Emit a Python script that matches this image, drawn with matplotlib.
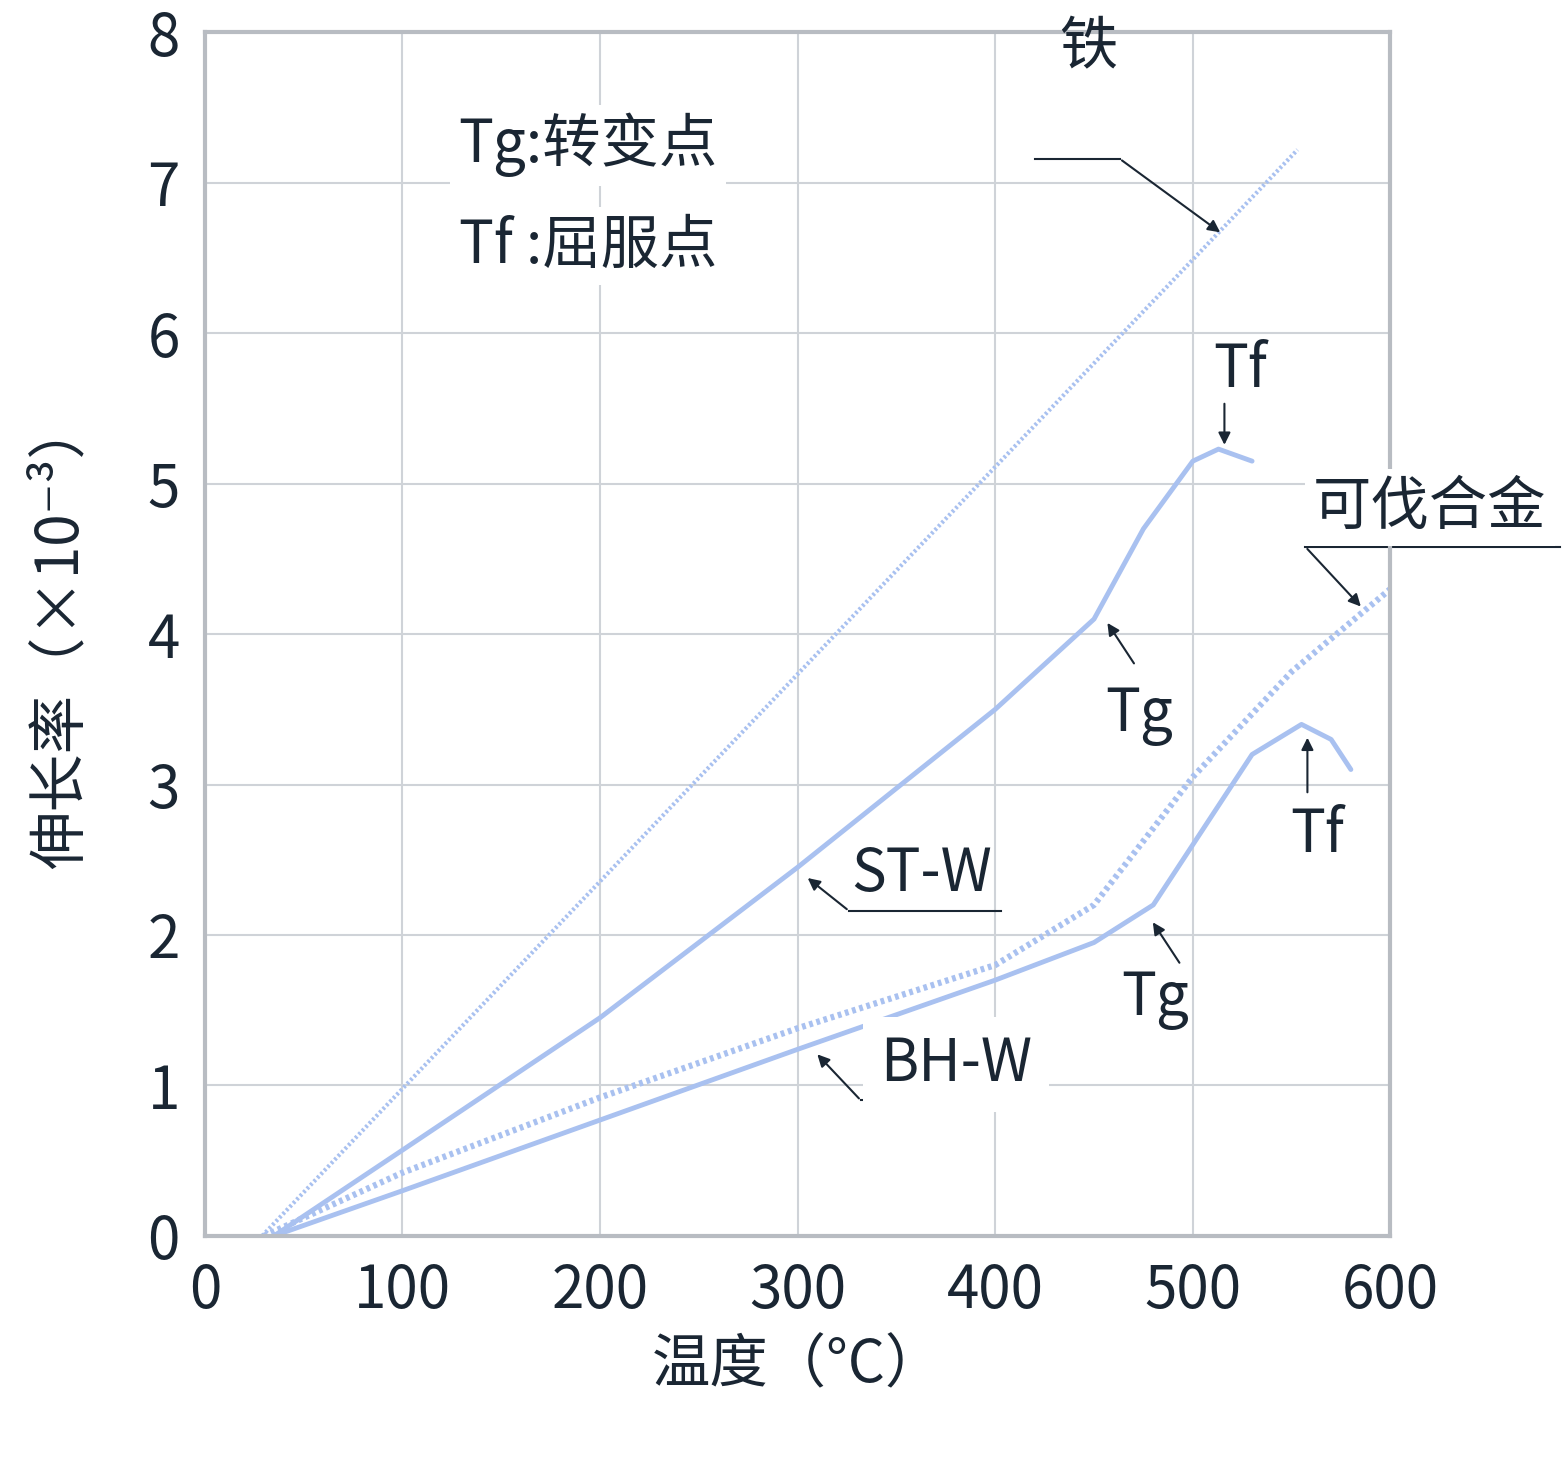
import matplotlib
matplotlib.use("Agg")
import matplotlib.pyplot as plt

plt.rcParams['font.family'] = ['Noto Sans CJK SC', 'DejaVu Sans']

# iron (thin dotted)
iron_x = [29, 553]
iron_y = [0, 7.22]

# ST-W (solid)
stw_x = [35, 100, 200, 300, 400, 450, 475, 500, 513, 530]
stw_y = [0, 0.57, 1.45, 2.45, 3.5, 4.1, 4.7, 5.15, 5.23, 5.15]

# Kovar alloy (dotted)
kov_x = [30, 100, 200, 300, 400, 450, 500, 550, 600]
kov_y = [0, 0.42, 0.92, 1.38, 1.8, 2.2, 3.05, 3.75, 4.3]

# BH-W (solid)
bhw_x = [35, 100, 200, 300, 400, 450, 480, 500, 530, 555, 570, 580]
bhw_y = [0, 0.3, 0.77, 1.24, 1.7, 1.95, 2.2, 2.6, 3.2, 3.4, 3.3, 3.1]

color = "#a9c1f0"
txt = "#1a2633"

fig = plt.figure(figsize=(15.64, 14.73), dpi=100)
ax = fig.add_axes([0.131, 0.161, 0.758, 0.817])

ax.plot(iron_x, iron_y, color=color, lw=3, ls=(0, (0.6, 0.6)))
ax.plot(stw_x, stw_y, color=color, lw=3.5, solid_capstyle="round")
ax.plot(kov_x, kov_y, color=color, lw=4.5, ls=(0, (0.6, 0.6)))
ax.plot(bhw_x, bhw_y, color=color, lw=3.5, solid_capstyle="round")

ax.set_xlim(0, 600)
ax.set_ylim(0, 8)
ax.set_xticks(range(0, 601, 100))
ax.set_yticks(range(0, 9))
ax.grid(True, color="#cfd3d8", lw=1.5)
ax.set_axisbelow(True)
for s in ax.spines.values():
    s.set_color("#b8bcc2")
    s.set_linewidth(3)
ax.tick_params(length=0, labelsize=42, colors=txt, pad=18)
ax.set_xlabel("温度（°C）", fontsize=42, color=txt, labelpad=10)
ax.set_ylabel("伸长率（×10⁻³）", fontsize=42, color=txt, labelpad=40)

fs = 42
bbox = dict(facecolor="white", edgecolor="none", pad=6)
ax.text(194, 7.25, "Tg:转变点", fontsize=fs, color=txt, ha="center", va="center", bbox=bbox)
ax.text(194, 6.58, "Tf :屈服点", fontsize=fs, color=txt, ha="center", va="center", bbox=bbox)

arrow = dict(arrowstyle="-|>", color=txt, lw=1.5, mutation_scale=18)

def callout(label, lx, ly, ax0, ay0, ax1, ay1, under=None):
    ax.text(lx, ly, label, fontsize=fs, color=txt, ha="center", va="center")
    if under:
        ax.plot(under, [ay0, ay0], color=txt, lw=1.5)
    ax.annotate("", xy=(ax1, ay1), xytext=(ax0, ay0), arrowprops=arrow)

callout("铁", 447, 7.9, 463, 7.16, 515, 6.66, under=[420, 463])
callout("Tf", 524, 5.75, 516, 5.55, 516, 5.24)
callout("Tg", 473, 3.46, 471, 3.79, 456, 4.09)
t = ax.text(620, 4.84, "可伐合金", fontsize=fs, color=txt, ha="center", va="center", bbox=bbox)
t.set_clip_on(False)
l, = ax.plot([557, 686], [4.58, 4.58], color=txt, lw=1.5)
l.set_clip_on(False)
ax.annotate("", xy=(586, 4.17), xytext=(557, 4.58), arrowprops=arrow)
callout("Tf", 563, 2.66, 558, 2.93, 558, 3.33)
callout("Tg", 481, 1.57, 494, 1.80, 479, 2.10)
callout("ST-W", 363, 2.40, 326, 2.16, 304, 2.39, under=[326, 403])
ax.text(380, 1.14, "BH-W", fontsize=fs, color=txt, ha="center", va="center",
        bbox=dict(facecolor="white", edgecolor="none", pad=12))
ax.plot([332, 416], [0.9, 0.9], color=txt, lw=1.5)
ax.annotate("", xy=(309, 1.22), xytext=(332, 0.9), arrowprops=arrow)

fig.savefig("out.png", dpi=100)
